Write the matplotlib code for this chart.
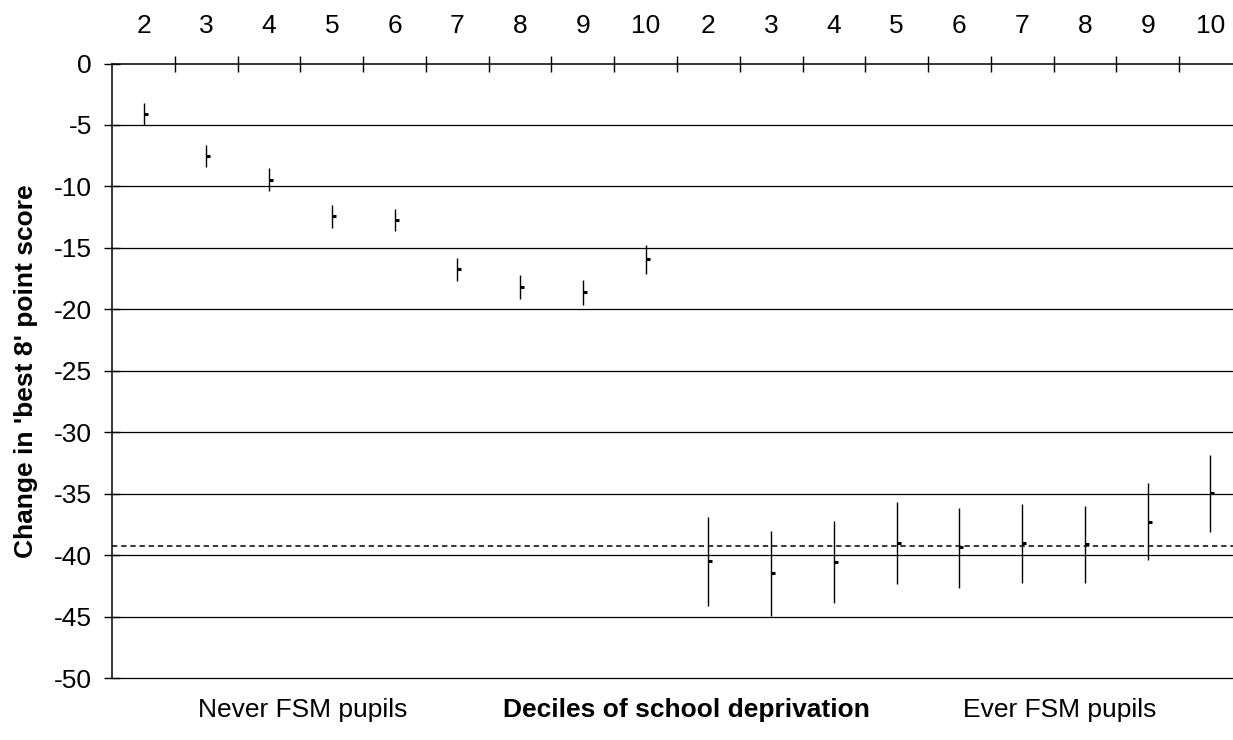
import matplotlib
matplotlib.use("Agg")
import matplotlib.pyplot as plt
from matplotlib.path import Path
from matplotlib.ticker import FixedLocator, NullFormatter, FixedFormatter

plt.rcParams['font.family'] = ['Liberation Sans', 'DejaVu Sans']

# Data
deciles = ["2", "3", "4", "5", "6", "7", "8", "9", "10",
           "2", "3", "4", "5", "6", "7", "8", "9", "10"]
estimate = [-4.1, -7.55, -9.45, -12.38, -12.7, -16.72, -18.19, -18.62, -15.9,
            -40.5, -41.46, -40.56, -39.02, -39.37, -39.04, -39.1, -37.28, -34.95]
upper = [-3.24, -6.66, -8.53, -11.5, -11.8, -15.83, -17.24, -17.64, -14.77,
         -36.88, -38.0, -37.23, -35.7, -36.19, -35.87, -36.03, -34.16, -31.86]
lower = [-5.03, -8.45, -10.35, -13.36, -13.6, -17.7, -19.19, -19.67, -17.13,
         -44.14, -44.96, -43.92, -42.33, -42.65, -42.24, -42.24, -40.4, -38.1]
reference_line = -39.23
group_labels = ["Never FSM pupils", "Ever FSM pupils"]
axis_title = "Deciles of school deprivation"
y_title = "Change in 'best 8' point score"
y_ticks = [0, -5, -10, -15, -20, -25, -30, -35, -40, -45, -50]

FS = 19
W, H = 1233, 740
fig = plt.figure(figsize=(W / 100, H / 100), dpi=100)
ax = fig.add_axes([112.2 / W, 1 - 678 / H, 1 - 112.2 / W, (678 - 63.5) / H])

xs = list(range(len(deciles)))
ax.set_xlim(-0.5, 17.36)
ax.set_ylim(-50, 0)

# gridlines
for yv in y_ticks[1:]:
    ax.axhline(yv, color='black', lw=0.9, zorder=1, clip_on=False)

# reference dashed line
ax.axhline(reference_line, color='black', lw=1.1, ls=(0, (3.5, 2.5)), zorder=2)

# error bars
ax.vlines(xs, lower, upper, color='black', lw=1.0, zorder=3)
tick_marker = Path([(0, 0), (1, 0)], [Path.MOVETO, Path.LINETO])
ax.plot(xs, estimate, ls='none', marker=tick_marker, markersize=6,
        markeredgewidth=2.2, color='black', zorder=4)

# spines
for s in ['bottom', 'right']:
    ax.spines[s].set_visible(False)
ax.spines['top'].set_linewidth(1.1)
ax.spines['left'].set_linewidth(1.1)

# x axis on top
ax.xaxis.set_ticks_position('top')
ax.xaxis.set_major_locator(FixedLocator([i + 0.5 for i in range(len(deciles) - 1)]))
ax.xaxis.set_major_formatter(NullFormatter())
ax.xaxis.set_minor_locator(FixedLocator(xs))
ax.xaxis.set_minor_formatter(FixedFormatter(deciles))
ax.tick_params(axis='x', which='major', direction='inout', length=12, width=1.0)
ax.tick_params(axis='x', which='minor', length=0, pad=18.5, labelsize=FS,
               labeltop=True, labelbottom=False)

ax.set_yticks(y_ticks)
ax.set_yticklabels([str(v) for v in y_ticks])
ax.tick_params(axis='y', direction='inout', length=12, width=1.0, labelsize=FS, pad=8.5)

ax.set_ylabel(y_title, fontsize=FS, fontweight='bold')
ax.yaxis.set_label_coords((38 - 112.2) / (W - 112.2), 0.5)

fig.text(303 / W, 1 - 710 / H, group_labels[0], fontsize=FS, ha='center', va='center')
fig.text(686 / W, 1 - 710 / H, axis_title, fontsize=FS, fontweight='bold', ha='center', va='center')
fig.text(1060 / W, 1 - 710 / H, group_labels[1], fontsize=FS, ha='center', va='center')

fig.savefig("out.png", dpi=100)
